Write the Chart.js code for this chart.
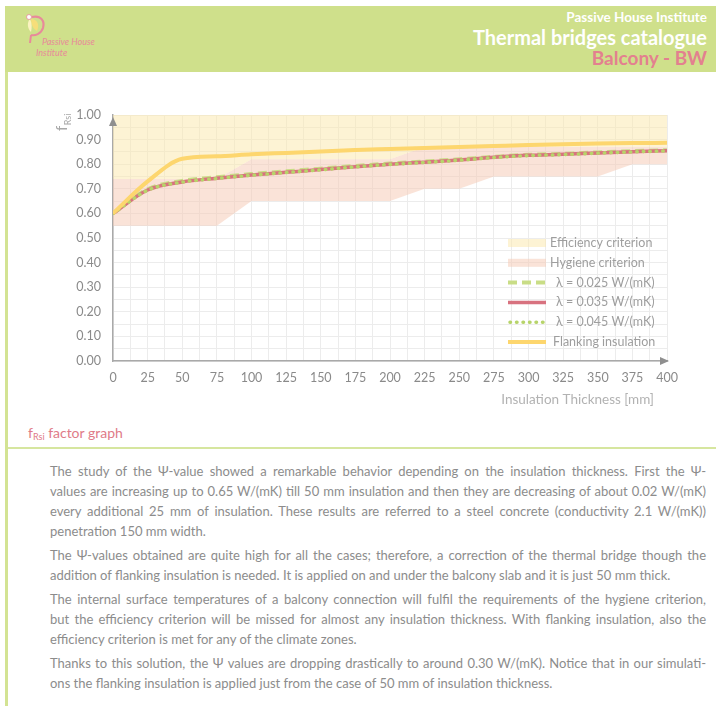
<!DOCTYPE html>
<html>
<head>
<meta charset="utf-8">
<script src="https://cdn.jsdelivr.net/npm/chart.js@4.4.1/dist/chart.umd.min.js"></script>
<style>
html, body { margin: 0; padding: 0; background: #fff; }
body { width: 716px; height: 706px; position: relative; overflow: hidden; font-family: Lato, "Open Sans", sans-serif; }
#header { position: absolute; left: 5px; top: 6px; width: 711px; height: 66px; background: #cfe08b; }
#header .t { position: absolute; right: 9px; white-space: nowrap; font-weight: bold; }
#h1 { top: 3px; font-size: 13.5px; line-height: 16px; color: #fff; }
#h2 { top: 20px; font-size: 20px; line-height: 22px; color: #fff; }
#h3 { top: 41px; font-size: 19px; line-height: 22px; color: #e3808f; }
#logo { position: absolute; left: 14px; top: 7px; }
#logoText { position: absolute; left: 31px; top: 30px; font-style: italic; font-size: 9px; line-height: 11px; color: #e88a9a; }
#strip { position: absolute; left: 5px; top: 72px; width: 3px; height: 634px; background: #d3e393; }
#chartBox { position: absolute; left: 0; top: 90px; }
#caption { position: absolute; left: 28px; top: 424px; font-size: 14px; line-height: 18px; color: #e07b88; }
#caption sub { font-size: 9px; vertical-align: -2px; }
#sep { position: absolute; left: 8px; top: 447px; width: 708px; height: 2px; background: #d6e69f; }
#text { position: absolute; left: 50px; top: 461px; width: 656px; color: #8c8c8c; font-size: 13px; line-height: 20px; }
#text p { margin: 0 0 4px 0; }
#text .l { display: block; text-align: justify; text-align-last: justify; }
#text .l.last { text-align-last: left; }
</style>
</head>
<body>
<div id="header">
  <svg id="logo" width="40" height="30" viewBox="0 0 40 30">
    <path d="M13 4 C 22 2, 26 8, 24 15 C 22 21, 16 23, 12 22" fill="none" stroke="#e88a9a" stroke-width="2.2"/>
    <path d="M12 6 C 18 6, 21 11, 18 18 C 14 16, 12 11, 12 6 Z" fill="#f6de7a"/>
    <path d="M11 6 C 8 9, 8 15, 12 19 C 13 14, 13 10, 11 6 Z" fill="#fbf3c0"/>
    <circle cx="10" cy="4" r="2.5" fill="#fff" stroke="#e88a9a" stroke-width="0.8"/>
    <path d="M12 22 L 11 30" stroke="#e88a9a" stroke-width="2"/>
  </svg>
  <div id="logoText"><span style="padding-left:6px">Passive House</span><br>Institute</div>
  <div class="t" id="h1">Passive House Institute</div>
  <div class="t" id="h2">Thermal bridges catalogue</div>
  <div class="t" id="h3">Balcony - BW</div>
</div>
<div id="strip"></div>
<div id="chartBox"><canvas id="chart" width="716" height="330"></canvas></div>
<div id="caption">f<sub>Rsi</sub> factor graph</div>
<div id="sep"></div>
<div id="text">
  <p>
    <span class="l">The study of the Ψ-value showed a remarkable behavior depending on the insulation thickness. First the Ψ-</span>
    <span class="l">values are increasing up to 0.65 W/(mK) till 50 mm insulation and then they are decreasing of about 0.02 W/(mK)</span>
    <span class="l">every additional 25 mm of insulation. These results are referred to a steel concrete (conductivity 2.1 W/(mK))</span>
    <span class="l last">penetration 150 mm width.</span>
  </p>
  <p>
    <span class="l">The Ψ-values obtained are quite high for all the cases; therefore, a correction of the thermal bridge though the</span>
    <span class="l last">addition of flanking insulation is needed. It is applied on and under the balcony slab and it is just 50 mm thick.</span>
  </p>
  <p>
    <span class="l">The internal surface temperatures of a balcony connection will fulfil the requirements of the hygiene criterion,</span>
    <span class="l">but the efficiency criterion will be missed for almost any insulation thickness. With flanking insulation, also the</span>
    <span class="l last">efficiency criterion is met for any of the climate zones.</span>
  </p>
  <p>
    <span class="l">Thanks to this solution, the Ψ values are dropping drastically to around 0.30 W/(mK). Notice that in our simulati-</span>
    <span class="l last">ons the flanking insulation is applied just from the case of 50 mm of insulation thickness.</span>
  </p>
</div>
<script>
// insulation thickness [mm]
const thickness = [0, 25, 50, 75, 100, 125, 150, 175, 200, 225, 250, 275, 300, 325, 350, 375, 400];

// fRsi for each insulation conductivity
const lambda025 = [0.600, 0.698, 0.732, 0.747, 0.760, 0.771, 0.782, 0.793, 0.803, 0.811, 0.820, 0.830, 0.838, 0.842, 0.848, 0.853, 0.857];
const lambda035 = [0.600, 0.695, 0.728, 0.743, 0.756, 0.767, 0.778, 0.790, 0.800, 0.808, 0.817, 0.828, 0.836, 0.840, 0.846, 0.851, 0.855];
const lambda045 = [0.600, 0.694, 0.727, 0.742, 0.755, 0.766, 0.777, 0.789, 0.799, 0.807, 0.816, 0.827, 0.835, 0.839, 0.845, 0.850, 0.854];
const flanking  = [0.600, 0.730, 0.822, 0.832, 0.840, 0.846, 0.852, 0.858, 0.862, 0.866, 0.870, 0.874, 0.878, 0.881, 0.884, 0.886, 0.887];

// criterion bands
const efficiencyUpper = [1.00, 1.00, 1.00, 1.00, 1.00, 1.00, 1.00, 1.00, 1.00, 1.00, 1.00, 1.00, 1.00, 1.00, 1.00, 1.00, 1.00];
const hygieneUpper    = [0.74, 0.74, 0.74, 0.74, 0.82, 0.82, 0.82, 0.82, 0.82, 0.87, 0.87, 0.87, 0.87, 0.87, 0.87, 0.87, 0.87];
const hygieneLower    = [0.55, 0.55, 0.55, 0.55, 0.65, 0.65, 0.65, 0.65, 0.65, 0.70, 0.70, 0.75, 0.75, 0.75, 0.75, 0.80, 0.80];

const xTicks = [0, 25, 50, 75, 100, 125, 150, 175, 200, 225, 250, 275, 300, 325, 350, 375, 400];
const yTicks = [0, 0.1, 0.2, 0.3, 0.4, 0.5, 0.6, 0.7, 0.8, 0.9, 1.0];

const pts = arr => arr.map((v, i) => ({x: thickness[i], y: v}));

Chart.defaults.font.family = 'Lato, "Open Sans", sans-serif';

const line = (label, data, color, width, dash, order) => ({
    label, data: pts(data), borderColor: color, borderWidth: width, borderDash: dash,
    borderCapStyle: dash.length && dash[0] < 3 ? 'round' : 'butt',
    pointRadius: 0, fill: false, cubicInterpolationMode: 'monotone', order
});

const band = (label, data, color, target) => ({
    label, data: pts(data), backgroundColor: color, borderWidth: 0,
    pointRadius: 0, fill: target, tension: 0, order: 10
});

// legend layout: dataset index, kind
const legendItems = [
    {ds: 4, box: true},
    {ds: 5, box: true},
    {ds: 0, indent: 6},
    {ds: 1, indent: 6},
    {ds: 2, indent: 6},
    {ds: 3, indent: 3}
];

const overlay = {
    id: 'overlay',
    afterDraw(chart) {
        const {ctx, chartArea: a} = chart;
        ctx.save();
        // axis arrows
        ctx.fillStyle = '#8f8f8f';
        ctx.beginPath();
        ctx.moveTo(a.left, a.top + 2);
        ctx.lineTo(a.left - 4, a.top + 11);
        ctx.lineTo(a.left + 4, a.top + 11);
        ctx.closePath();
        ctx.fill();
        ctx.beginPath();
        ctx.moveTo(a.right + 2, a.bottom);
        ctx.lineTo(a.right - 7, a.bottom - 4);
        ctx.lineTo(a.right - 7, a.bottom + 4);
        ctx.closePath();
        ctx.fill();

        // y title fRsi (rotated)
        ctx.fillStyle = '#a8a8a8';
        ctx.save();
        ctx.translate(67, a.top + 16);
        ctx.rotate(-Math.PI / 2);
        ctx.font = '15px Lato, sans-serif';
        ctx.textBaseline = 'alphabetic';
        ctx.textAlign = 'left';
        ctx.fillText('f', 0, 0);
        const fw = ctx.measureText('f').width;
        ctx.font = '9px Lato, sans-serif';
        ctx.fillText('Rsi', fw + 0.5, 4);
        ctx.restore();

        // x title
        ctx.font = '13.5px Lato, sans-serif';
        ctx.fillStyle = '#b2b2b2';
        ctx.textAlign = 'right';
        ctx.textBaseline = 'middle';
        ctx.fillText('Insulation Thickness [mm]', a.right - 13, a.bottom + 39);

        // legend
        const sx = a.right - 159, sw = 38, tx = a.right - 117;
        ctx.textAlign = 'left';
        ctx.font = '12.5px Lato, sans-serif';
        legendItems.forEach((it, i) => {
            const ds = chart.data.datasets[it.ds];
            const y = a.bottom - 19 - (legendItems.length - 1 - i) * 19.8;
            if (it.box) {
                ctx.fillStyle = ds.backgroundColor;
                ctx.fillRect(sx, y - 4, sw, 8);
            } else {
                ctx.strokeStyle = ds.borderColor;
                ctx.lineWidth = ds.borderWidth;
                ctx.setLineDash(ds.borderDash);
                ctx.lineCap = ds.borderCapStyle;
                ctx.beginPath();
                ctx.moveTo(sx + (ds.borderDash.length && ds.borderDash[0] < 3 ? 2 : 0), y);
                ctx.lineTo(sx + sw, y);
                ctx.stroke();
                ctx.setLineDash([]);
            }
            ctx.fillStyle = '#9e9e9e';
            ctx.fillText(ds.label, tx + (it.indent || 0), y);
        });
        ctx.restore();
    }
};

new Chart(document.getElementById('chart'), {
    type: 'line',
    data: {
        datasets: [
            line('λ = 0.025 W/(mK)', lambda025, '#c9dd86', 4, [9, 5], 3),
            line('λ = 0.035 W/(mK)', lambda035, '#d8727f', 3.5, [], 2),
            line('λ = 0.045 W/(mK)', lambda045, '#b7d46a', 3.5, [0.5, 6], 1),
            line('Flanking insulation', flanking, '#fdd66e', 4, [], 0),
            band('Efficiency criterion', efficiencyUpper, 'rgba(251,231,169,0.5)', 5),
            band('Hygiene criterion', hygieneUpper, 'rgba(245,200,178,0.5)', 6),
            band('hygiene lower', hygieneLower, 'rgba(0,0,0,0)', false)
        ]
    },
    options: {
        responsive: false,
        animation: false,
        devicePixelRatio: 1,
        layout: {padding: {left: 0, right: 49, top: 25, bottom: 0}},
        plugins: {legend: {display: false}, tooltip: {enabled: false}},
        scales: {
            x: {
                type: 'linear', min: 0, max: 400,
                afterFit: s => { s.height = 59; },
                afterBuildTicks: s => {
                    s.ticks = [];
                    for (let v = 0; v <= 400; v += 12.5) s.ticks.push({value: v});
                },
                ticks: {
                    autoSkip: false, maxRotation: 0, padding: 9,
                    color: '#8a8a8a', font: {size: 12.5},
                    callback: v => xTicks.includes(v) ? String(v) : ''
                },
                grid: {color: '#ececec', lineWidth: 1, drawTicks: false},
                border: {color: '#a9a9a9', width: 1.5}
            },
            y: {
                min: 0, max: 1,
                afterFit: s => { s.width = 113; },
                afterBuildTicks: s => {
                    s.ticks = [];
                    for (let i = 0; i <= 20; i++) s.ticks.push({value: i * 0.05});
                },
                ticks: {
                    autoSkip: false, padding: 12,
                    color: '#8a8a8a', font: {size: 12.5},
                    callback: v => yTicks.some(t => Math.abs(t - v) < 1e-6) ? v.toFixed(2) : ''
                },
                grid: {color: '#ececec', lineWidth: 1, drawTicks: false},
                border: {color: '#a9a9a9', width: 1.5}
            }
        }
    },
    plugins: [overlay]
});
</script>
</body>
</html>
